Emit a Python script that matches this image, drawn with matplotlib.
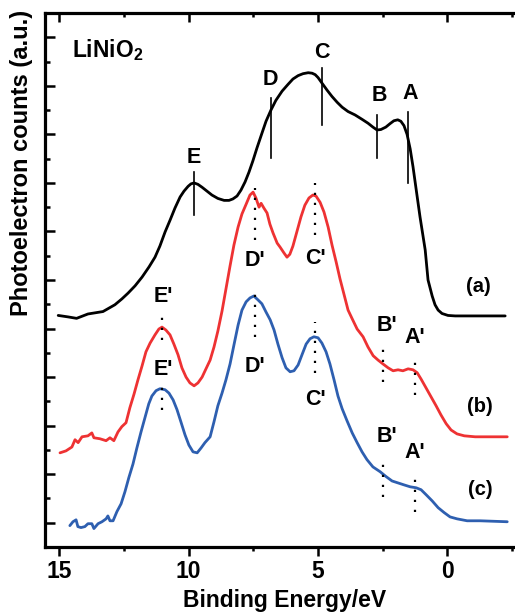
import matplotlib
matplotlib.use("Agg")
import matplotlib.pyplot as plt
from matplotlib.ticker import MultipleLocator

plt.rcParams['font.family'] = ['Liberation Sans', 'DejaVu Sans']
plt.rcParams['font.weight'] = 'bold'
plt.rcParams['mathtext.fontset'] = 'custom'
plt.rcParams['mathtext.rm'] = 'Liberation Sans:bold'
plt.rcParams['mathtext.bf'] = 'Liberation Sans:bold'

# ---- data: binding energy (eV) and offset intensities (a.u.) ----
energy_a = [15.04, 14.66, 14.33, 13.89, 13.31, 12.85, 12.58, 12.34, 12.07, 11.80, 11.53, 11.30,
            11.11, 10.91, 10.72, 10.53, 10.33, 10.18, 10.02, 9.91, 9.79, 9.64, 9.48, 9.29,
            9.10, 8.87, 8.63, 8.44, 8.29, 8.13, 7.98, 7.82, 7.67, 7.52, 7.36, 7.17, 7.01,
            6.82, 6.63, 6.39, 6.16, 5.97, 5.77, 5.58, 5.38, 5.23, 5.11, 5.00, 4.84, 4.65,
            4.46, 4.26, 4.07, 3.84, 3.57, 3.30, 3.07, 2.88, 2.72, 2.57, 2.38, 2.22, 2.07,
            1.92, 1.80, 1.68, 1.56, 1.44, 1.33, 1.21, 1.06, 0.86, 0.75, 0.59, 0.48, 0.36,
            0.21, -0.02, -0.30, -2.23]
counts_a = [4.27, 4.24, 4.21, 4.30, 4.35, 4.49, 4.61, 4.73, 4.88, 5.06, 5.27, 5.47,
            5.70, 5.99, 6.23, 6.48, 6.71, 6.83, 6.93, 6.98, 7.00, 6.97, 6.91, 6.83,
            6.75, 6.68, 6.64, 6.64, 6.67, 6.73, 6.85, 7.02, 7.22, 7.45, 7.72, 8.02, 8.27,
            8.50, 8.70, 8.89, 9.03, 9.14, 9.21, 9.25, 9.27, 9.26, 9.23, 9.17, 9.05, 8.91,
            8.78, 8.66, 8.56, 8.47, 8.40, 8.31, 8.23, 8.15, 8.09, 8.10, 8.15, 8.22, 8.28,
            8.30, 8.27, 8.18, 8.00, 7.70, 7.33, 6.87, 6.30, 5.62, 5.00, 4.67, 4.49, 4.38,
            4.31, 4.27, 4.26, 4.26]

energy_b = [14.97, 14.74, 14.51, 14.39, 14.27, 14.12, 13.89, 13.74, 13.66, 13.43, 13.19, 13.04,
            12.89, 12.73, 12.58, 12.42, 12.27, 12.11, 11.96, 11.80, 11.65, 11.49, 11.30, 11.15,
            11.03, 10.88, 10.72, 10.57, 10.41, 10.26, 10.10, 9.95, 9.79, 9.64, 9.48, 9.33,
            9.17, 9.02, 8.87, 8.71, 8.56, 8.40, 8.25, 8.09, 7.94, 7.78, 7.63, 7.51, 7.40,
            7.28, 7.20, 7.09, 6.97, 6.86, 6.74, 6.58, 6.47, 6.32, 6.20, 6.09, 5.97, 5.82,
            5.66, 5.51, 5.35, 5.20, 5.08, 4.92, 4.77, 4.61, 4.46, 4.30, 4.15, 3.99, 3.84,
            3.68, 3.49, 3.26, 3.07, 2.87, 2.68, 2.49, 2.29, 2.10, 1.91, 1.72, 1.52, 1.33,
            1.17, 1.02, 0.83, 0.63, 0.44, 0.25, 0.05, -0.14, -0.37, -0.65, -1.07, -1.65, -2.31]
counts_b = [1.44, 1.48, 1.56, 1.71, 1.65, 1.77, 1.79, 1.85, 1.75, 1.73, 1.69, 1.75,
            1.69, 1.87, 1.98, 2.06, 2.37, 2.65, 2.94, 3.23, 3.52, 3.70, 3.87, 3.99,
            4.03, 3.97, 3.87, 3.68, 3.46, 3.19, 3.00, 2.88, 2.82, 2.88, 3.00, 3.17,
            3.35, 3.62, 3.95, 4.36, 4.81, 5.29, 5.72, 6.09, 6.36, 6.56, 6.75, 6.81, 6.69,
            6.50, 6.58, 6.48, 6.38, 6.15, 5.97, 5.76, 5.68, 5.56, 5.47, 5.53, 5.70, 5.99,
            6.30, 6.54, 6.69, 6.75, 6.73, 6.60, 6.40, 6.09, 5.72, 5.37, 5.02, 4.69, 4.38,
            4.20, 3.99, 3.83, 3.62, 3.44, 3.35, 3.27, 3.19, 3.13, 3.15, 3.13, 3.17, 3.15,
            3.09, 2.96, 2.78, 2.59, 2.41, 2.22, 2.04, 1.91, 1.83, 1.79, 1.77, 1.77, 1.77]

energy_c = [14.59, 14.47, 14.35, 14.28, 14.16, 14.01, 13.89, 13.74, 13.66, 13.50, 13.35, 13.19,
            13.12, 13.04, 12.92, 12.77, 12.61, 12.46, 12.31, 12.15, 12.00, 11.84, 11.69, 11.54,
            11.42, 11.26, 11.11, 10.91, 10.76, 10.60, 10.45, 10.30, 10.14, 9.99, 9.83, 9.67,
            9.52, 9.37, 9.17, 9.02, 8.87, 8.71, 8.56, 8.40, 8.25, 8.09, 7.94, 7.78, 7.63,
            7.48, 7.32, 7.17, 7.01, 6.85, 6.70, 6.55, 6.39, 6.24, 6.08, 5.93, 5.77, 5.62,
            5.46, 5.31, 5.16, 5.00, 4.85, 4.69, 4.54, 4.38, 4.23, 4.07, 3.88, 3.68, 3.49,
            3.30, 3.11, 2.88, 2.60, 2.37, 2.14, 1.91, 1.68, 1.44, 1.21, 1.02, 0.83, 0.59,
            0.36, 0.13, -0.10, -0.37, -0.76, -1.26, -2.31]
counts_c = [-0.06, 0.02, 0.06, -0.08, -0.10, -0.08, -0.02, -0.02, -0.12, -0.02, 0.02, 0.08,
            0.14, 0.04, 0.04, 0.23, 0.39, 0.64, 0.93, 1.21, 1.54, 1.87, 2.16, 2.45,
            2.61, 2.72, 2.76, 2.74, 2.67, 2.53, 2.33, 2.08, 1.81, 1.60, 1.46, 1.44,
            1.54, 1.65, 1.77, 2.08, 2.41, 2.67, 2.94, 3.27, 3.66, 4.07, 4.38, 4.55, 4.63,
            4.67, 4.59, 4.51, 4.34, 4.18, 3.97, 3.68, 3.40, 3.19, 3.11, 3.13, 3.25, 3.46,
            3.68, 3.79, 3.83, 3.81, 3.70, 3.52, 3.27, 2.94, 2.61, 2.35, 2.10, 1.85, 1.65,
            1.46, 1.30, 1.15, 1.05, 0.95, 0.86, 0.82, 0.78, 0.74, 0.72, 0.68, 0.58, 0.45,
            0.31, 0.21, 0.12, 0.08, 0.04, 0.04, 0.02]

# peak markers for (a): label, energy, line bottom, line top, label position
peaks_a = ['E', 'D', 'C', 'B', 'A']
peaks_a_energy = [9.79, 6.82, 4.86, 2.72, 1.52]
peaks_a_low = [6.34, 7.51, 8.19, 7.51, 7.00]
peaks_a_high = [7.22, 8.74, 9.36, 8.40, 8.46]
peaks_a_label_x = [9.79, 6.86, 4.84, 2.64, 1.44]
peaks_a_label_y = [7.53, 9.12, 9.69, 8.81, 8.85]

# primed markers for (b) and (c)
peaks_p = ["E'", "D'", "C'", "B'", "A'"]
peaks_p_energy = [11.03, 7.44, 5.12, 2.49, 1.25]
peaks_b_low = [3.77, 5.82, 5.93, 2.90, 2.63]
peaks_b_high = [4.32, 6.89, 7.00, 3.70, 3.42]
peaks_b_label_x = [10.99, 7.44, 5.12, 2.33, 1.25]
peaks_b_label_y = [4.65, 5.41, 5.45, 4.07, 3.81]
peaks_c_low = [2.33, 3.83, 3.09, 0.53, 0.23]
peaks_c_high = [2.88, 4.86, 4.14, 1.34, 1.03]
peaks_c_label_x = [10.99, 7.44, 5.12, 2.33, 1.25]
peaks_c_label_y = [3.15, 3.21, 2.53, 1.77, 1.44]

curve_labels = ['(a)', '(b)', '(c)']
curve_label_x = [-1.18, -1.26, -1.26]
curve_label_y = [4.86, 2.39, 0.68]

x_ticks = [15, 10, 5, 0]

# ---- figure ----
fig = plt.figure(figsize=(5.15, 6.12), dpi=100)
ax = fig.add_axes([45/515, 65/612, 470/515, 534/612])

RED = '#ee3233'
BLUE = '#2e5fb0'
for xs, ys, c in [(energy_a, counts_a, 'black'), (energy_b, counts_b, RED),
                  (energy_c, counts_c, BLUE)]:
    ax.plot(xs, ys, color=c, lw=2.0, solid_joinstyle='round', solid_capstyle='round')

fs = 15.5
for lab, e, lo, hi, lx, ly in zip(peaks_a, peaks_a_energy, peaks_a_low, peaks_a_high,
                                  peaks_a_label_x, peaks_a_label_y):
    ax.plot([e, e], [lo, hi], color='black', lw=1.2)
    ax.text(lx, ly, lab, ha='center', va='center', fontsize=fs, fontweight='bold')

for lows, highs, lxs, lys in [(peaks_b_low, peaks_b_high, peaks_b_label_x, peaks_b_label_y),
                              (peaks_c_low, peaks_c_high, peaks_c_label_x, peaks_c_label_y)]:
    for lab, e, lo, hi, lx, ly in zip(peaks_p, peaks_p_energy, lows, highs, lxs, lys):
        ax.plot([e, e], [lo, hi], color='black', lw=1.6, linestyle=(0, (1, 3.5)),
                dash_capstyle='butt')
        ax.text(lx, ly, lab, ha='center', va='center', fontsize=fs, fontweight='bold')

for lab, lx, ly in zip(curve_labels, curve_label_x, curve_label_y):
    ax.text(lx, ly, lab, ha='center', va='center', fontsize=14.5, fontweight='bold')

ax.text(14.51, 9.73, r'LiNiO$_\mathbf{2}$', ha='left', va='center', fontsize=16.5,
        fontweight='bold')

ax.set_xlim(15.55, -2.61)
ax.set_ylim(-0.5, 10.5)

ax.set_xticks(x_ticks)
ax.set_xticklabels([str(t) for t in x_ticks], fontsize=16.5, fontweight='bold')
ax.xaxis.set_minor_locator(MultipleLocator(2.5))
ax.yaxis.set_major_locator(MultipleLocator(1))
ax.yaxis.set_minor_locator(MultipleLocator(0.5))
ax.set_yticklabels([])

ax.spines['right'].set_visible(False)
for s in ['left', 'bottom', 'top']:
    ax.spines[s].set_linewidth(2.3)

ax.tick_params(axis='x', which='both', bottom=True, top=True, width=1.8)
ax.tick_params(axis='x', which='major', length=6.5, pad=3)
ax.tick_params(axis='x', which='minor', length=3)
ax.tick_params(axis='y', which='both', left=True, right=False, direction='in', width=1.8)
ax.tick_params(axis='y', which='major', length=7)
ax.tick_params(axis='y', which='minor', length=3.5)
# top ticks point inward, bottom ticks outward
for t in ax.xaxis.get_major_ticks() + ax.xaxis.get_minor_ticks():
    t.tick1line.set_marker(3)
    t.tick2line.set_marker(3)

fig.text(285/515, 1 - 600/612, 'Binding Energy/eV', ha='center', va='center',
         fontsize=16.5, fontweight='bold')
fig.text(22/515, 1 - 163/612, 'Photoelectron counts (a.u.)', ha='center', va='center',
         rotation=90, fontsize=17, fontweight='bold')

fig.savefig('out.png', dpi=100)
